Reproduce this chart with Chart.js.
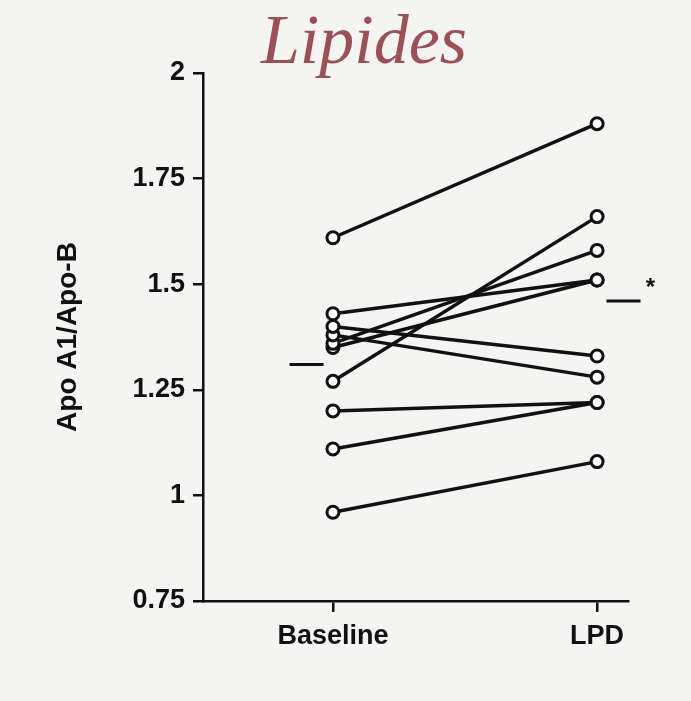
<!DOCTYPE html>
<html>
<head>
<meta charset="utf-8">
<title>Lipides</title>
<script src="https://cdn.jsdelivr.net/npm/chart.js@4"></script>
<style>
  html, body { margin: 0; padding: 0; background: #f4f4f3; }
  #wrap { width: 691px; height: 701px; position: relative; }
</style>
</head>
<body>
<div id="wrap"><canvas id="chart" width="691" height="701"></canvas></div>
<script>
// ===== DATA =====
const groups = ["Baseline", "LPD"];
const baseline = [1.61, 1.43, 1.40, 1.38, 1.36, 1.35, 1.27, 1.20, 1.11, 0.96];
const lpd      = [1.88, 1.51, 1.33, 1.28, 1.58, 1.51, 1.66, 1.22, 1.22, 1.08];
const groupMeans = [1.31, 1.46];
const yTicks = [0.75, 1, 1.25, 1.5, 1.75, 2];
const yTickLabels = ["0.75", "1", "1.25", "1.5", "1.75", "2"];

const INK = "#111";
const FONT = "'Liberation Sans', Arial, sans-serif";

// one line per subject, baseline -> LPD
const subjectSets = baseline.map((b, i) => ({
  data: [{ x: 0, y: b }, { x: 1, y: lpd[i] }],
  borderColor: INK,
  borderWidth: 3.5,
  pointRadius: 6,
  pointBorderWidth: 3,
  pointBackgroundColor: "#fff",
  pointBorderColor: INK,
  tension: 0
}));

// group mean dashes, set a little off each column
const meanSet = {
  data: groupMeans.map((m, i) => ({ x: i === 0 ? -0.1 : 1.1, y: m })),
  showLine: false,
  clip: false,
  pointStyle: "line",
  pointRadius: 17,
  pointBorderWidth: 3,
  pointBorderColor: INK,
  pointBackgroundColor: INK
};

// title + significance star
const decor = {
  id: "decor",
  afterDraw(chart) {
    const ctx = chart.ctx;
    ctx.save();
    ctx.fillStyle = "#9c5053";
    ctx.font = "italic 70px 'Liberation Serif', serif";
    ctx.textAlign = "center";
    ctx.textBaseline = "alphabetic";
    ctx.fillText("Lipides", 364, 63);

    const xs = chart.scales.x, ys = chart.scales.y;
    ctx.fillStyle = INK;
    ctx.font = "bold 24px " + FONT;
    ctx.fillText("*", xs.getPixelForValue(1.1) + 27, ys.getPixelForValue(groupMeans[1]) - 6);
    ctx.restore();
  }
};

new Chart(document.getElementById("chart"), {
  type: "line",
  data: { datasets: [...subjectSets, meanSet] },
  plugins: [decor],
  options: {
    responsive: false,
    animation: false,
    events: [],
    layout: { padding: { top: 73, right: 63, left: 0, bottom: 0 } },
    plugins: { legend: { display: false }, tooltip: { enabled: false } },
    scales: {
      x: {
        type: "linear",
        min: -0.492,
        max: 1.117,
        afterBuildTicks: s => { s.ticks = [{ value: 0 }, { value: 1 }]; },
        afterFit: s => { s.height = 100; },
        ticks: {
          callback: v => groups[v],
          color: INK,
          font: { family: FONT, size: 27, weight: "bold" },
          padding: 8
        },
        grid: { drawOnChartArea: false, color: INK, lineWidth: 2.5, tickLength: 11 },
        border: { color: INK, width: 2.5 }
      },
      y: {
        min: 0.75,
        max: 2,
        afterBuildTicks: s => { s.ticks = yTicks.map(v => ({ value: v })); },
        afterFit: s => { s.width = 203; },
        ticks: {
          callback: (v) => yTickLabels[yTicks.indexOf(v)],
          color: INK,
          font: { family: FONT, size: 27, weight: "bold" },
          padding: 8
        },
        grid: { drawOnChartArea: false, color: INK, lineWidth: 2.5, tickLength: 10 },
        border: { color: INK, width: 2.5 },
        title: {
          display: true,
          text: "Apo A1/Apo-B",
          color: INK,
          font: { family: FONT, size: 28, weight: "bold" },
          padding: { top: 51, bottom: 0 }
        }
      }
    }
  }
});
</script>
</body>
</html>
